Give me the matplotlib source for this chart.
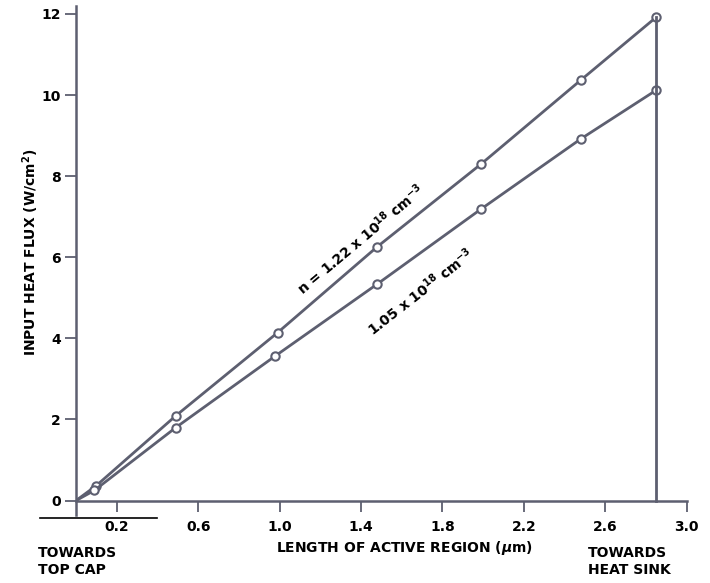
import matplotlib.pyplot as plt
from matplotlib.lines import Line2D

# values
x_upper = [0.0, 0.1, 0.49, 0.99, 1.48, 1.99, 2.48, 2.85]
y_upper = [0.0, 0.37, 2.09, 4.14, 6.26, 8.3, 10.37, 11.92]
x_lower = [0.0, 0.09, 0.49, 0.98, 1.48, 1.99, 2.48, 2.85]
y_lower = [0.0, 0.25, 1.8, 3.57, 5.34, 7.19, 8.92, 10.12]
sink_x = 2.85

x_ticks = [0.2, 0.6, 1.0, 1.4, 1.8, 2.2, 2.6, 3.0]
y_ticks = [0, 2, 4, 6, 8, 10, 12]

LINE = "#5d5f70"

plt.rcParams['font.family'] = ["DejaVu Sans"]
plt.rcParams['font.weight'] = 'bold'

fig = plt.figure(figsize=(7.1, 5.83), dpi=100)
ax = fig.add_axes([0.107, 0.117, 0.866, 0.873])

for xs, ys in [(x_upper, y_upper), (x_lower, y_lower)]:
    ax.plot(xs, ys, color=LINE, lw=2, marker='o', ms=6, mfc='white',
            mec=LINE, mew=1.5, markevery=slice(1, None))

ax.plot([sink_x, sink_x], [0, y_upper[-1]], color=LINE, lw=2)

ax.set_xlim(0, 3.02)
ax.set_ylim(-0.35, 12.2)
for s in ['top', 'right']:
    ax.spines[s].set_visible(False)
ax.spines['bottom'].set_position(('data', 0))
ax.spines['bottom'].set_bounds(0, 3.0)
ax.spines['left'].set_position(('data', 0))
for s in ['bottom', 'left']:
    ax.spines[s].set_color(LINE)
    ax.spines[s].set_linewidth(1.8)

ax.set_xticks(x_ticks)
ax.set_xticklabels([f"{v:.1f}" for v in x_ticks])
ax.set_yticks(y_ticks)
ax.set_yticklabels([str(v) for v in y_ticks])
ax.tick_params(axis='x', direction='out', length=8, width=1.3, color=LINE,
               labelsize=10, pad=6)
ax.tick_params(axis='y', direction='out', length=8, width=1.3, color=LINE,
               labelsize=10, pad=3)

ax.text(1.40, 6.45, r"n = 1.22 x 10$^{18}$ cm$^{-3}$", rotation=40,
        ha='center', va='center', fontsize=10, fontweight='bold')
ax.text(1.69, 5.15, r"1.05 x 10$^{18}$ cm$^{-3}$", rotation=38,
        ha='center', va='center', fontsize=10, fontweight='bold')

fig.text(0.043, 0.568, "INPUT HEAT FLUX (W/cm$^2$)", rotation=90,
         ha='center', va='center', fontsize=10, fontweight='bold')
fig.text(0.57, 0.06, r"LENGTH OF ACTIVE REGION ($\mu$m)", ha='center',
         va='center', fontsize=10, fontweight='bold')
fig.text(0.053, 0.037, "TOWARDS\nTOP CAP", ha='left', va='center',
         fontsize=10, fontweight='bold', linespacing=1.3)
fig.text(0.828, 0.037, "TOWARDS\nHEAT SINK", ha='left', va='center',
         fontsize=10, fontweight='bold', linespacing=1.3)
fig.add_artist(Line2D([0.056, 0.221], [0.112, 0.112], color='black', lw=1.2,
                      transform=fig.transFigure))

fig.savefig("out.png", dpi=100)
